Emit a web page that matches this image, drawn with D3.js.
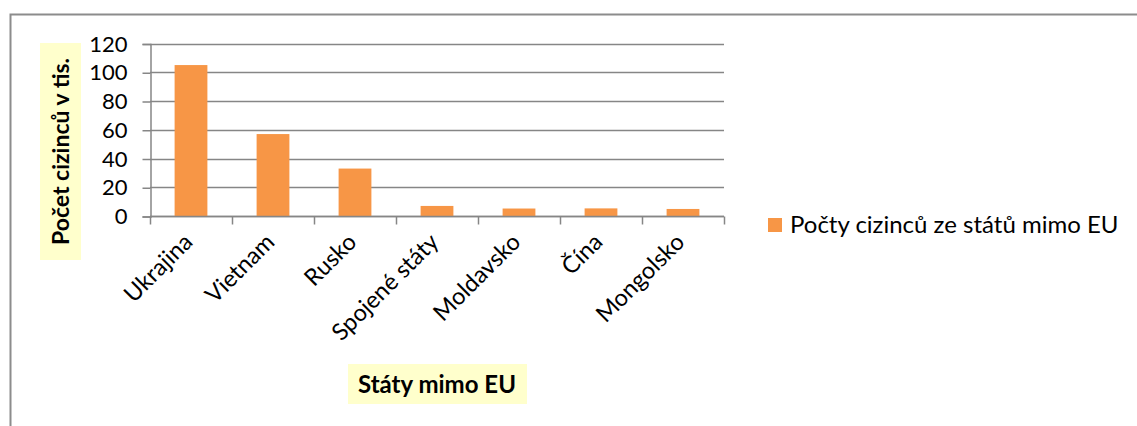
<!DOCTYPE html>
<html>
<head>
<meta charset="utf-8">
<script src="https://cdn.jsdelivr.net/npm/d3@7"></script>
<style>
  body { margin: 0; background: #fff; }
  svg { display: block; font-family: Lato, "Open Sans", sans-serif; }
</style>
</head>
<body>
<svg id="chart" width="1137" height="426"></svg>
<script>
'use strict';

const categories = ['Ukrajina', 'Vietnam', 'Rusko', 'Spojené státy', 'Moldavsko', 'Čína', 'Mongolsko'];
const values = [105, 57, 33, 7, 5.2, 5.3, 4.9];
const yTicks = [0, 20, 40, 60, 80, 100, 120];
const seriesName = 'Počty cizinců ze států mimo EU';
const xTitle = 'Státy mimo EU';
const yTitle = 'Počet cizinců v tis.';

const barColor = '#f79646';
const gridColor = '#868686';
const labelBg = '#ffffcc';

const svg = d3.select('#chart');

// outer chart frame
svg.append('rect')
    .attr('x', 10.5).attr('y', 14.5)
    .attr('width', 1140).attr('height', 420)
    .attr('fill', 'none')
    .attr('stroke', '#8c8c8c')
    .attr('stroke-width', 2);

const x = d3.scaleBand()
    .domain(categories)
    .range([150, 724])
    .paddingInner(0.6)
    .paddingOuter(0.3);

const y = d3.scaleLinear()
    .domain([0, 120])
    .range([216, 43.5]);

// gridlines
svg.append('g')
    .selectAll('line')
    .data(yTicks)
    .enter().append('line')
    .attr('x1', 150).attr('x2', 724)
    .attr('y1', (d) => Math.round(y(d)) + 0.5)
    .attr('y2', (d) => Math.round(y(d)) + 0.5)
    .attr('stroke', gridColor)
    .attr('stroke-width', 1.5);

// bars
svg.append('g')
    .selectAll('rect')
    .data(values)
    .enter().append('rect')
    .attr('x', (d, i) => x(categories[i]))
    .attr('y', (d) => y(d))
    .attr('width', x.bandwidth())
    .attr('height', (d) => y(0) - y(d))
    .attr('fill', barColor);

// y axis
const yAxis = svg.append('g')
    .attr('transform', 'translate(150.5,0.5)')
    .call(d3.axisLeft(y).tickValues(yTicks).tickSize(8).tickPadding(15));
yAxis.select('.domain').attr('stroke', gridColor).attr('stroke-width', 1.5);
yAxis.selectAll('.tick line').attr('stroke', gridColor).attr('stroke-width', 1.5);
yAxis.selectAll('.tick text')
    .attr('font-size', 22)
    .attr('font-family', 'Lato, sans-serif')
    .attr('fill', '#000');

// x axis: ticks on band boundaries
const bounds = categories.map((c) => x(c) - x.step() * x.paddingInner() / 2).concat([724]);
const xAxis = svg.append('g').attr('transform', 'translate(0,' + (Math.round(y(0)) + 0.5) + ')');
xAxis.append('line')
    .attr('x1', 150).attr('x2', 724)
    .attr('stroke', gridColor).attr('stroke-width', 1.5);
xAxis.selectAll('line.tk')
    .data(bounds)
    .enter().append('line')
    .attr('class', 'tk')
    .attr('x1', (d) => Math.round(d) + 0.5).attr('x2', (d) => Math.round(d) + 0.5)
    .attr('y1', 0).attr('y2', 8)
    .attr('stroke', gridColor).attr('stroke-width', 1.5);
xAxis.selectAll('text')
    .data(categories)
    .enter().append('text')
    .attr('transform', (d) => 'translate(' + (x(d) + x.bandwidth() / 2 + 3) + ',27) rotate(-45)')
    .attr('text-anchor', 'end')
    .attr('font-size', 23.5)
    .attr('fill', '#000')
    .text((d) => d);

// y axis title
const yt = svg.append('g').attr('transform', 'translate(61,151.5) rotate(-90)');
yt.append('rect')
    .attr('x', -108.5).attr('y', -21)
    .attr('width', 217).attr('height', 41)
    .attr('fill', labelBg);
yt.append('text')
    .attr('text-anchor', 'middle')
    .attr('y', 8)
    .attr('font-size', 23)
    .attr('font-weight', 'bold')
    .text(yTitle);

// x axis title
svg.append('rect')
    .attr('x', 348).attr('y', 364)
    .attr('width', 179).attr('height', 40)
    .attr('fill', labelBg);
svg.append('text')
    .attr('x', 437).attr('y', 393)
    .attr('text-anchor', 'middle')
    .attr('font-size', 24)
    .attr('font-weight', 'bold')
    .text(xTitle);

// legend
svg.append('rect')
    .attr('x', 768).attr('y', 218)
    .attr('width', 14).attr('height', 14)
    .attr('fill', barColor);
svg.append('text')
    .attr('x', 790).attr('y', 233)
    .attr('font-size', 24)
    .attr('fill', '#000')
    .text(seriesName);
</script>
</body>
</html>
